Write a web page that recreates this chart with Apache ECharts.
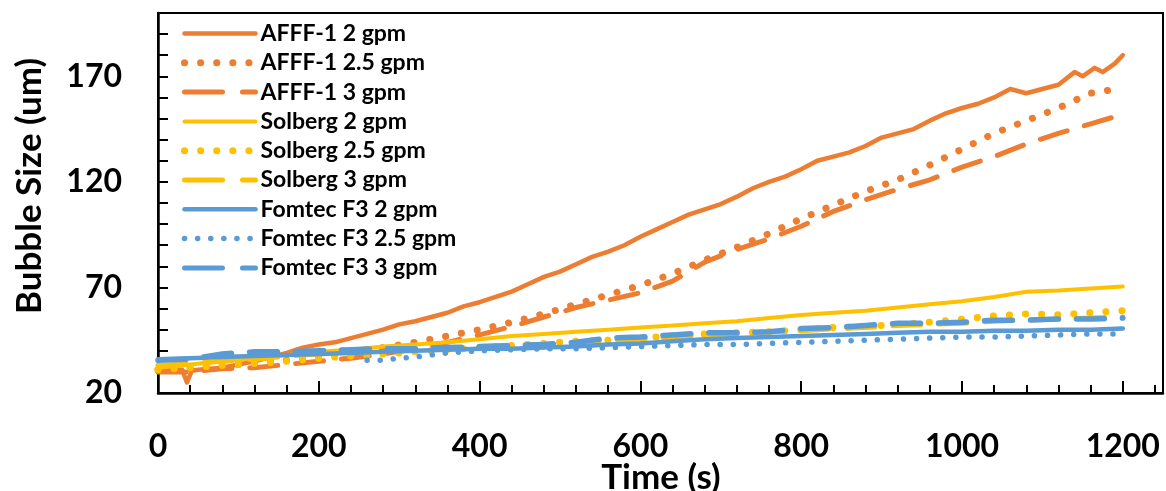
<!DOCTYPE html>
<html>
<head>
<meta charset="utf-8">
<script src="https://cdn.jsdelivr.net/npm/echarts@6/dist/echarts.min.js"></script>
<style>
html, body { margin: 0; padding: 0; background: #fff; }
#main { width: 1166px; height: 491px; }
</style>
</head>
<body>
<div id="main"></div>
<script>
// 时间轴 (s)
var tStd = [0, 40, 80, 120, 160, 200, 240, 280, 320, 360, 400, 440, 480, 520, 560, 600,
            640, 680, 720, 760, 800, 840, 880, 920, 960, 1000, 1040, 1080, 1120, 1160, 1200];

// AFFF-1
var afff2T = [0, 10, 20, 30, 36, 42, 50, 80, 100, 120, 140, 160, 180, 200, 220, 240, 260, 280, 300,
              320, 340, 360, 380, 400, 420, 440, 460, 480, 500, 520, 540, 560, 580, 600, 620, 640,
              660, 680, 700, 720, 740, 760, 780, 800, 820, 840, 860, 880, 900, 920, 940, 960, 980,
              1000, 1020, 1040, 1060, 1080, 1100, 1120, 1140, 1150, 1165, 1175, 1190, 1200];
var afff2Y = [32, 31.5, 31, 31, 25, 30.5, 31, 32, 33.5, 35, 37, 39, 41.5, 43, 44, 46, 48, 50, 52.5,
              54, 56, 58, 61, 63, 65.5, 68, 71.5, 75, 77.5, 81, 84.5, 87, 90, 94, 97.5, 101,
              104.5, 107, 109.5, 113, 117, 120, 122.5, 126, 130, 132, 134, 137, 141, 143, 145, 149, 152.5,
              155, 157, 160, 164, 162, 164, 166, 172, 170, 174, 172, 176, 180];
var afff25Y = [31, 31.5, 33, 34, 35.5, 37.5, 39.5, 41.5, 44, 47, 50, 53.5, 57.5, 62, 66.5, 71,
               76.5, 83, 89, 95.5, 102.5, 109, 115.5, 121, 128, 135.5, 143, 149, 155, 162, 164.5];
var afff3Y = [30, 30, 31.5, 32, 33.5, 35, 36.5, 38.5, 41, 44, 47.5, 51.5, 56, 60.5, 64, 67.5,
              73, 82, 88, 93, 99, 106, 111.5, 116.5, 121, 127, 132, 138, 143, 147.5, 152];

// Solberg
var sol2Y = [32, 33.5, 35, 36.5, 38, 39.5, 40.5, 42, 43, 44, 45.5, 47, 48, 49, 50, 51,
             52, 53, 54, 55.5, 57, 58, 59, 60.5, 62, 63.5, 65.5, 68, 68.5, 69.5, 70.5];
var sol25Y = [31, 32, 33, 34, 35, 36.5, 37.5, 38.5, 39.5, 40.5, 41.5, 42.5, 43.5, 44.5, 45, 46,
              47, 48, 48.5, 49, 50, 51, 51.5, 52.5, 53.5, 55, 56.5, 57.5, 57, 58, 59];
var sol3Y = [33, 34, 35, 36, 37.5, 38.5, 39.5, 40.5, 41, 41.5, 42, 42.5, 43, 44, 45, 45.5,
             46.5, 47.5, 48, 49, 49.5, 50.5, 51, 52, 52.5, 53, 54, 54.5, 55, 55.5, 56];

// Fomtec F3
var fom2Y = [36, 36.5, 37, 37.5, 38, 38.5, 39, 39.5, 40, 40.5, 41, 41, 41.5, 42, 43, 43.5,
             44.5, 45.5, 46, 46.5, 47, 47.5, 48, 48.5, 49, 49, 49.5, 49.5, 50, 50, 50.5];
var fom25T = [260, 280, 300, 320, 340, 360, 400, 440, 480, 520, 560, 600, 640, 680, 720, 760,
              800, 840, 880, 920, 960, 1000, 1040, 1080, 1120, 1160, 1200];
var fom25Y = [35.5, 35.5, 36.5, 37, 38, 39, 40, 40.5, 41, 41, 41.5, 42, 42.5, 43, 43, 43.5,
              44, 44.5, 45, 45.5, 46, 46.5, 46.5, 47, 47.5, 48, 48];
var fom3Y = [35.5, 36, 38.5, 39.5, 39.5, 40, 40.5, 41, 41, 41.5, 42, 42.5, 43, 44, 46, 46.5,
             47.5, 48.5, 48.5, 49, 50.5, 51, 52, 53, 53, 53.5, 54.5, 54.5, 55, 55, 55.5];

var names = ['AFFF-1 2 gpm', 'AFFF-1 2.5 gpm', 'AFFF-1 3 gpm',
             'Solberg 2 gpm', 'Solberg 2.5 gpm', 'Solberg 3 gpm',
             'Fomtec F3 2 gpm', 'Fomtec F3 2.5 gpm', 'Fomtec F3 3 gpm'];

var ORANGE = '#ED7D31', YELLOW = '#FFC000', BLUE = '#5B9BD5';
var FONT = 'Lato';

function pairs(t, y) {
    var out = [];
    for (var i = 0; i < t.length; i++) out.push([t[i], y[i]]);
    return out;
}

// 线型: 实线 / 圆点 / 长划线
function solid(c, w) { return { color: c, width: w, type: 'solid', cap: 'round', join: 'round' }; }
function dots(c, w, gap) { return { color: c, width: w, type: [0.1, gap], cap: 'round', join: 'round' }; }
function dash(c, w) { return { color: c, width: w, type: [28, 18], cap: 'round', join: 'round' }; }

var lineData = [
    [pairs(afff2T, afff2Y), solid(ORANGE, 4.5)],
    [pairs(tStd, afff25Y), dots(ORANGE, 7, 16)],
    [pairs(tStd, afff3Y), dash(ORANGE, 5)],
    [pairs(tStd, sol2Y), solid(YELLOW, 4)],
    [pairs(tStd, sol25Y), dots(YELLOW, 7, 16)],
    [pairs(tStd, sol3Y), dash(YELLOW, 5)],
    [pairs(tStd, fom2Y), solid(BLUE, 4.5)],
    [pairs(fom25T, fom25Y), dots(BLUE, 5.5, 13)],
    [pairs(tStd, fom3Y), dash(BLUE, 5.5)]
];

// 图例样式 (legend里单独给线型)
var legendLine = [
    solid(ORANGE, 4.5), dots(ORANGE, 7, 16), { color: ORANGE, width: 5, type: [38, 20], cap: 'round' },
    solid(YELLOW, 4), dots(YELLOW, 7, 16), { color: YELLOW, width: 5, type: [38, 20], cap: 'round' },
    solid(BLUE, 4.5), dots(BLUE, 5.5, 13), { color: BLUE, width: 5, type: [38, 20], cap: 'round' }
];

var series = [];
var legendData = [];
for (var i = 0; i < lineData.length; i++) {
    series.push({
        name: names[i],
        type: 'line',
        xAxisIndex: 0,
        symbol: 'none',
        silent: true,
        animation: false,
        data: lineData[i][0],
        lineStyle: lineData[i][1],
        itemStyle: { color: lineData[i][1].color }
    });
    legendData.push({
        name: names[i],
        lineStyle: legendLine[i],
        itemStyle: { opacity: 0 }
    });
}

var chart = echarts.init(document.getElementById('main'));
chart.setOption({
    backgroundColor: '#fff',
    animation: false,
    grid: {
        left: 158, right: 3, top: 13, bottom: 98,
        containLabel: false,
        outerBoundsMode: 'none',
        show: true, borderColor: '#000', borderWidth: 2
    },
    legend: {
        orient: 'vertical',
        left: 181, top: 22,
        padding: 0,
        itemWidth: 71, itemHeight: 14,
        itemGap: 6.3,
        data: legendData,
        textStyle: { fontFamily: FONT, fontWeight: 'bold', fontSize: 23, color: '#000', lineHeight: 23 }
    },
    // 坐标轴标题
    graphic: [{
        type: 'text',
        x: 30, y: 186,
        rotation: Math.PI / 2,
        style: {
            text: 'Bubble Size (um)',
            fontFamily: FONT, fontWeight: 'bold', fontSize: 35, fill: '#000',
            align: 'center', verticalAlign: 'middle'
        }
    }, {
        type: 'text',
        x: 661, y: 478,
        style: {
            text: 'Time (s)',
            fontFamily: FONT, fontWeight: 'bold', fontSize: 35, fill: '#000',
            align: 'center', verticalAlign: 'middle'
        }
    }],
    xAxis: [{
        type: 'value',
        min: 0, max: 1250, interval: 40,
        axisLine: { lineStyle: { color: '#000', width: 2.5 } },
        axisTick: { inside: true, length: 8, lineStyle: { color: '#000', width: 2 } },
        axisLabel: {
            fontFamily: FONT, fontWeight: 'bold', fontSize: 32, color: '#000', margin: 38,
            showMaxLabel: false,
            formatter: function (v) { return (v % 200 === 0 && v <= 1200) ? String(v) : ''; }
        },
        splitLine: { show: false }
    }, {
        type: 'value',
        position: 'bottom',
        min: 0, max: 1250, interval: 200,
        axisLine: { show: false },
        axisTick: { inside: true, length: 12, lineStyle: { color: '#000', width: 2 } },
        axisLabel: { show: false },
        splitLine: { show: false }
    }],
    yAxis: {
        type: 'value',
        min: 20, max: 200, interval: 10,
        axisLine: { show: true, lineStyle: { color: '#000', width: 2.5 } },
        axisTick: { show: true, inside: true, length: 10, lineStyle: { color: '#000', width: 2 } },
        axisLabel: {
            fontFamily: FONT, fontWeight: 'bold', fontSize: 32, color: '#000', margin: 36,
            formatter: function (v) { return ((v - 20) % 50 === 0 && v < 200) ? String(v) : ''; }
        },
        splitLine: { show: false }
    },
    series: series
});
</script>
</body>
</html>
